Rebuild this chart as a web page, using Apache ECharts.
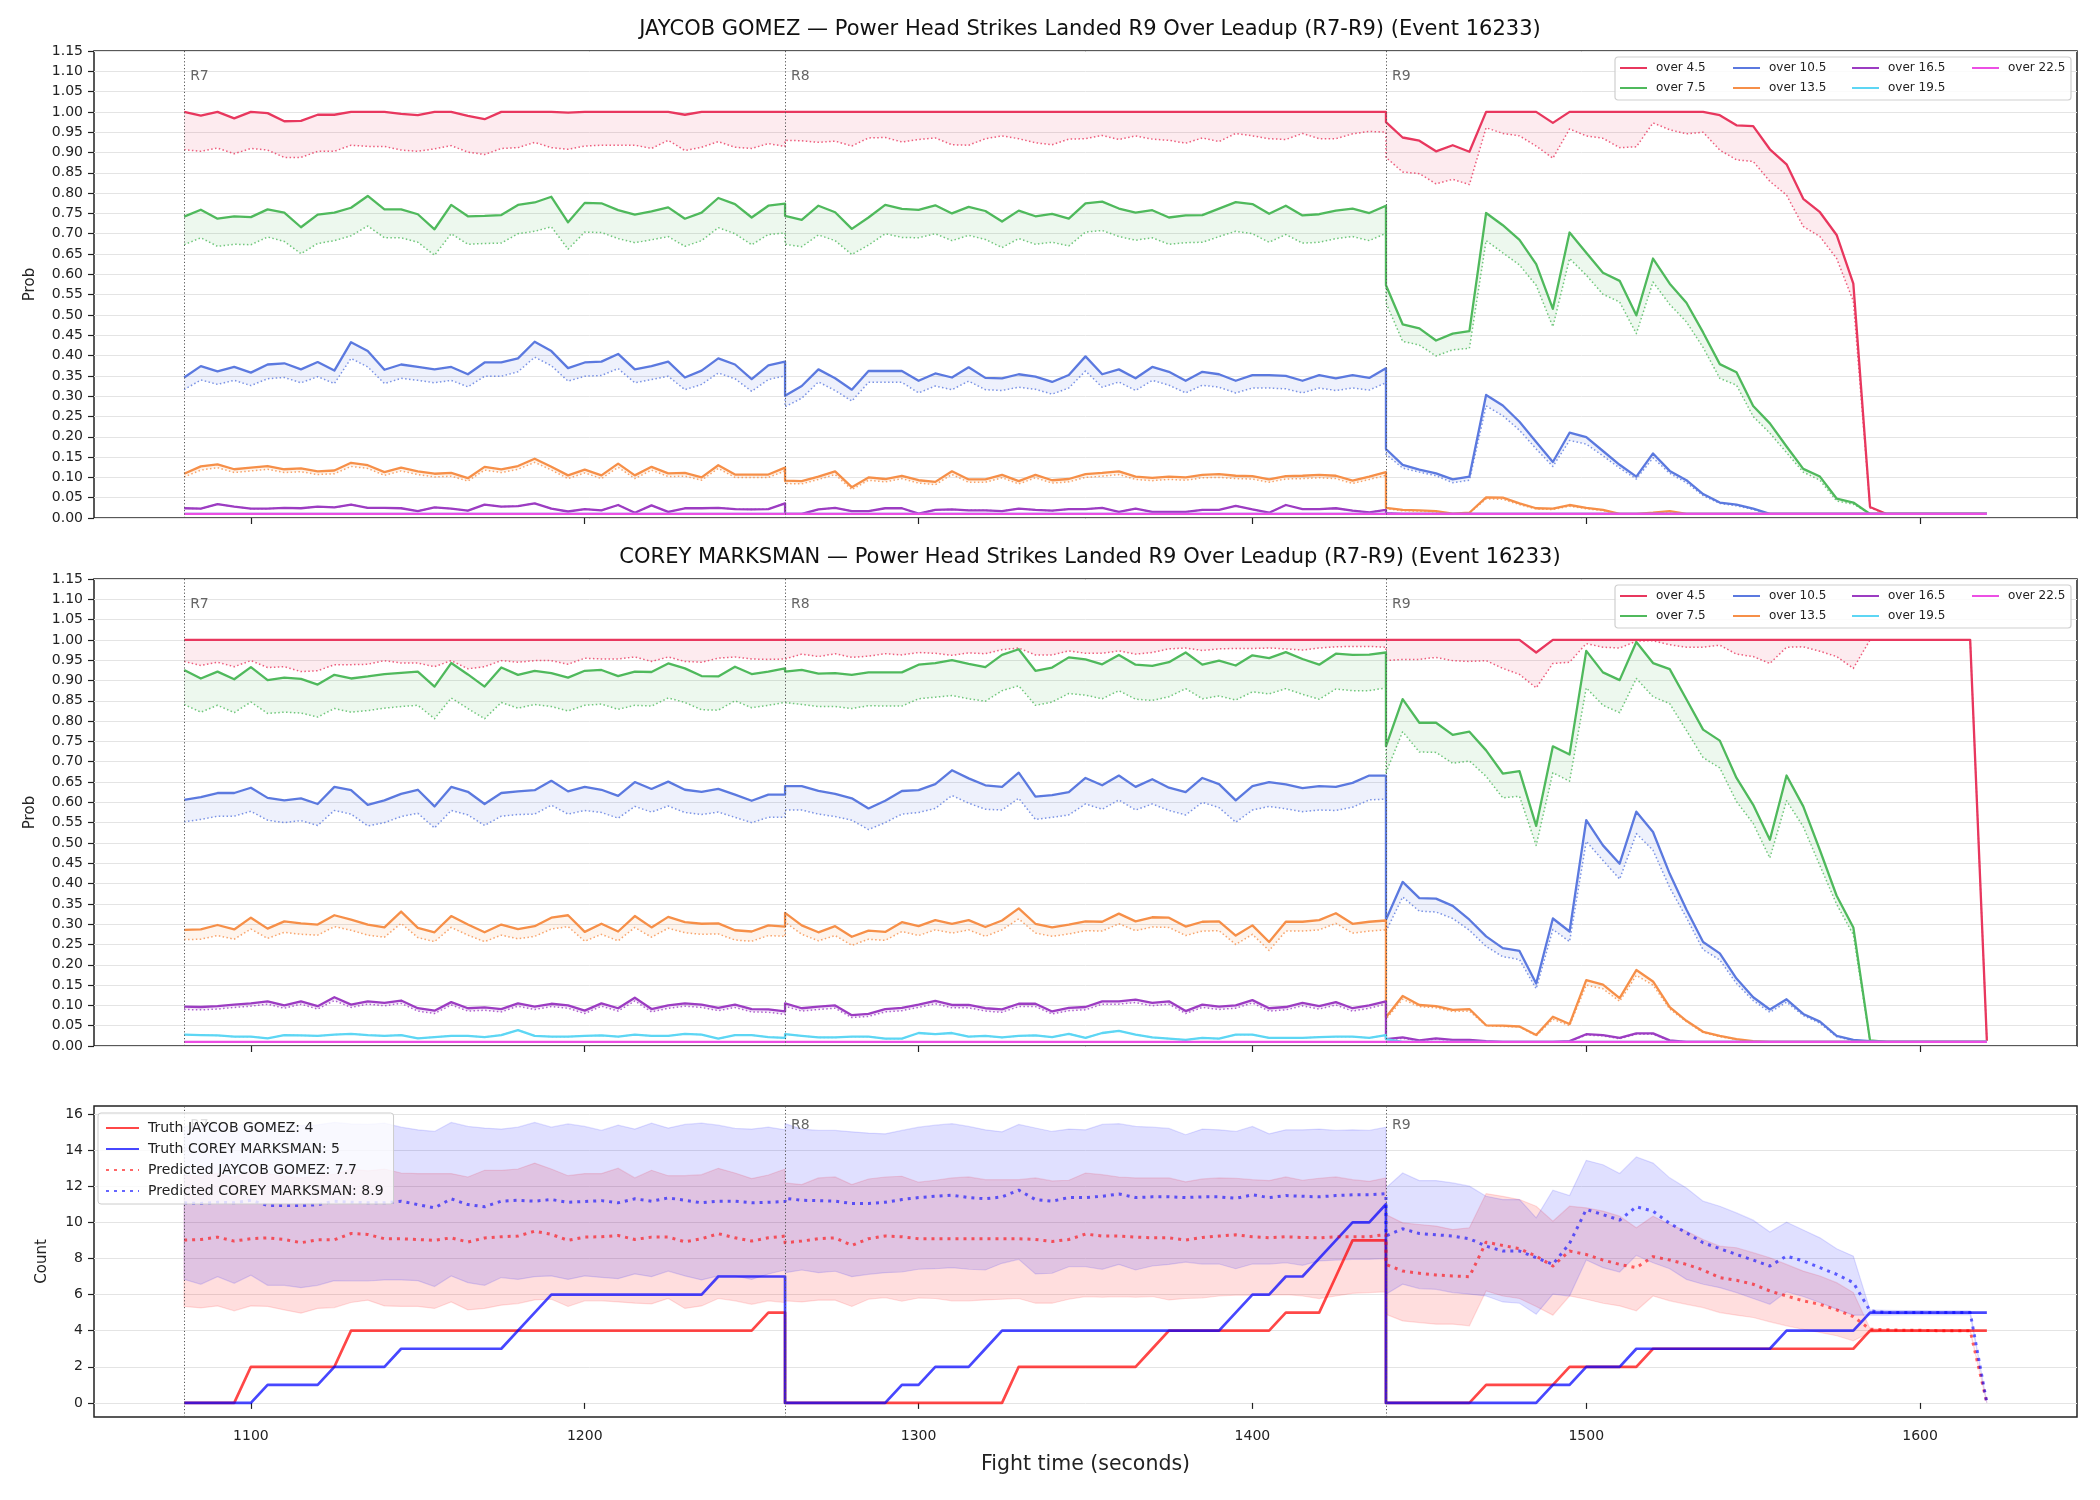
<!DOCTYPE html>
<html>

<head>
    <meta charset="UTF-8">
    <title>Power Head Strikes Landed R9 Over Leadup</title>
    <script src="https://cdn.jsdelivr.net/npm/echarts@6/dist/echarts.min.js"></script>
</head>

<body style="margin:0;background:#fff;">
    <div id="chart" style="width: 2100px;height:1500px;"></div>
    <script type="text/javascript">
        var myChart = echarts.init(document.getElementById('chart'));

        // rounds: sampled every 5 s, each round 0..180 s
        var roundStarts = [1080, 1260, 1440];
        var roundEnds = [1260, 1440, 1620];
        var roundNames = ['R7', 'R8', 'R9'];
        var stepSec = 5;
        var times = [];
        roundStarts.forEach(function (s, r) {
            for (var t = s; t <= roundEnds[r]; t += stepSec) times.push(t);
        });

        var thresholds = ['over 4.5', 'over 7.5', 'over 10.5', 'over 13.5', 'over 16.5', 'over 19.5', 'over 22.5'];
        var xTicks = [1100, 1200, 1300, 1400, 1500, 1600];
        var countTicks = [0, 2, 4, 6, 8, 10, 12, 14, 16];

        // one round of constant values
        var ones = [1, 1, 1, 1, 1, 1, 1, 1, 1, 1, 1, 1, 1, 1, 1, 1, 1, 1, 1, 1, 1, 1, 1, 1, 1, 1, 1, 1, 1, 1, 1, 1, 1, 1, 1, 1, 1];
        var low = [0.01, 0.01, 0.01, 0.01, 0.01, 0.01, 0.01, 0.01, 0.01, 0.01, 0.01, 0.01, 0.01, 0.01, 0.01, 0.01, 0.01, 0.01, 0.01, 0.01,
            0.01, 0.01, 0.01, 0.01, 0.01, 0.01, 0.01, 0.01, 0.01, 0.01, 0.01, 0.01, 0.01, 0.01, 0.01, 0.01, 0.01];

        // ---------- JAYCOB GOMEZ (solid = s, dotted = d) ----------
        var jg45s = [].concat(
            [1.00, 0.991, 1.00, 0.984, 1.00, 0.997, 0.977, 0.978, 0.993, 0.993, 1.00, 1.00, 1.00, 0.995, 0.992, 1.00, 1.00, 0.99, 0.982, 1.00, 1.00, 1.00, 1.00, 0.998, 1.00, 1.00, 1.00, 1.00, 1.00, 1.00, 0.993, 1.00, 1.00, 1.00, 1.00, 1.00, 1.00],
            ones,
            [0.975, 0.937, 0.929, 0.903, 0.918, 0.902, 1, 1, 1, 1, 0.973, 1, 1, 1, 1, 1, 1, 1, 1, 1, 0.992, 0.967, 0.965, 0.908, 0.871, 0.786, 0.753, 0.697, 0.577, 0.027, 0.01, 0.01, 0.01, 0.01, 0.01, 0.01, 0.01]);
        var jg45d = [].concat(
            [0.907, 0.903, 0.911, 0.897, 0.91, 0.906, 0.888, 0.888, 0.903, 0.903, 0.918, 0.915, 0.915, 0.906, 0.903, 0.909, 0.917, 0.901, 0.895, 0.91, 0.912, 0.925, 0.912, 0.908, 0.916, 0.918, 0.918, 0.918, 0.91, 0.93, 0.905, 0.913, 0.927, 0.913, 0.91, 0.922, 0.915],
            [0.93, 0.929, 0.925, 0.928, 0.916, 0.936, 0.937, 0.926, 0.932, 0.936, 0.919, 0.918, 0.934, 0.941, 0.934, 0.924, 0.919, 0.933, 0.934, 0.942, 0.932, 0.941, 0.933, 0.93, 0.923, 0.936, 0.927, 0.947, 0.941, 0.934, 0.932, 0.947, 0.934, 0.934, 0.946, 0.952, 0.95],
            [0.888, 0.852, 0.848, 0.823, 0.834, 0.821, 0.961, 0.947, 0.941, 0.916, 0.886, 0.958, 0.941, 0.935, 0.912, 0.914, 0.973, 0.956, 0.946, 0.95, 0.906, 0.882, 0.878, 0.829, 0.795, 0.718, 0.693, 0.639, 0.534, 0.025, 0.01, 0.01, 0.01, 0.01, 0.01, 0.01, 0.01]);
        var jg75s = [].concat(
            [0.742, 0.759, 0.737, 0.743, 0.741, 0.76, 0.752, 0.716, 0.747, 0.752, 0.764, 0.793, 0.76, 0.76, 0.748, 0.711, 0.771, 0.743, 0.744, 0.746, 0.771, 0.777, 0.791, 0.728, 0.776, 0.775, 0.758, 0.747, 0.755, 0.765, 0.737, 0.752, 0.788, 0.773, 0.74, 0.769, 0.774],
            [0.744, 0.734, 0.769, 0.753, 0.712, 0.74, 0.771, 0.761, 0.759, 0.77, 0.75, 0.766, 0.756, 0.73, 0.757, 0.743, 0.749, 0.737, 0.775, 0.779, 0.762, 0.752, 0.758, 0.74, 0.745, 0.746, 0.762, 0.778, 0.773, 0.749, 0.769, 0.745, 0.748, 0.757, 0.762, 0.751, 0.769],
            [0.573, 0.477, 0.467, 0.437, 0.454, 0.46, 0.751, 0.721, 0.685, 0.625, 0.515, 0.703, 0.653, 0.604, 0.584, 0.499, 0.639, 0.577, 0.53, 0.457, 0.379, 0.359, 0.276, 0.233, 0.176, 0.121, 0.102, 0.048, 0.038, 0.01, 0.01, 0.01, 0.01, 0.01, 0.01, 0.01, 0.01]);
        var jg75d = [].concat(
            [0.673, 0.69, 0.669, 0.674, 0.673, 0.692, 0.681, 0.651, 0.676, 0.683, 0.695, 0.719, 0.69, 0.69, 0.679, 0.647, 0.70, 0.674, 0.676, 0.677, 0.70, 0.706, 0.717, 0.662, 0.704, 0.703, 0.688, 0.678, 0.685, 0.693, 0.669, 0.683, 0.715, 0.70, 0.673, 0.698, 0.702],
            [0.674, 0.668, 0.697, 0.683, 0.649, 0.672, 0.70, 0.691, 0.69, 0.70, 0.683, 0.696, 0.686, 0.666, 0.688, 0.674, 0.679, 0.67, 0.704, 0.708, 0.693, 0.684, 0.69, 0.674, 0.678, 0.679, 0.693, 0.706, 0.70, 0.679, 0.698, 0.677, 0.679, 0.688, 0.693, 0.683, 0.701],
            [0.53, 0.435, 0.426, 0.399, 0.414, 0.418, 0.683, 0.653, 0.623, 0.573, 0.471, 0.639, 0.598, 0.551, 0.532, 0.454, 0.581, 0.526, 0.483, 0.42, 0.344, 0.327, 0.25, 0.209, 0.161, 0.113, 0.093, 0.042, 0.034, 0.01, 0.01, 0.01, 0.01, 0.01, 0.01, 0.01, 0.01]);
        var jg105s = [].concat(
            [0.346, 0.374, 0.361, 0.372, 0.358, 0.378, 0.381, 0.366, 0.384, 0.363, 0.433, 0.411, 0.365, 0.378, 0.372, 0.366, 0.372, 0.354, 0.383, 0.383, 0.393, 0.434, 0.411, 0.369, 0.383, 0.385, 0.404, 0.366, 0.374, 0.385, 0.346, 0.363, 0.393, 0.378, 0.342, 0.376, 0.385],
            [0.301, 0.325, 0.366, 0.344, 0.316, 0.362, 0.362, 0.362, 0.338, 0.356, 0.346, 0.371, 0.345, 0.344, 0.354, 0.348, 0.335, 0.352, 0.398, 0.354, 0.366, 0.344, 0.372, 0.36, 0.338, 0.36, 0.354, 0.338, 0.352, 0.352, 0.35, 0.338, 0.352, 0.344, 0.352, 0.345, 0.369],
            [0.17, 0.131, 0.119, 0.11, 0.095, 0.102, 0.303, 0.277, 0.237, 0.187, 0.138, 0.21, 0.199, 0.165, 0.131, 0.102, 0.159, 0.116, 0.093, 0.059, 0.038, 0.033, 0.023, 0.01, 0.01, 0.01, 0.01, 0.01, 0.01, 0.01, 0.01, 0.01, 0.01, 0.01, 0.01, 0.01, 0.01]);
        var jg105d = [].concat(
            [0.316, 0.34, 0.329, 0.339, 0.326, 0.343, 0.346, 0.333, 0.348, 0.331, 0.393, 0.372, 0.331, 0.344, 0.339, 0.333, 0.339, 0.323, 0.349, 0.349, 0.36, 0.396, 0.375, 0.337, 0.349, 0.351, 0.368, 0.333, 0.341, 0.349, 0.316, 0.329, 0.357, 0.343, 0.312, 0.341, 0.35],
            [0.274, 0.295, 0.335, 0.314, 0.288, 0.334, 0.334, 0.334, 0.308, 0.325, 0.316, 0.337, 0.316, 0.314, 0.322, 0.317, 0.305, 0.32, 0.362, 0.322, 0.335, 0.314, 0.339, 0.327, 0.308, 0.327, 0.322, 0.308, 0.32, 0.32, 0.318, 0.308, 0.32, 0.314, 0.32, 0.315, 0.333],
            [0.157, 0.123, 0.113, 0.104, 0.087, 0.093, 0.276, 0.252, 0.216, 0.17, 0.127, 0.191, 0.182, 0.153, 0.123, 0.096, 0.148, 0.11, 0.087, 0.055, 0.036, 0.03, 0.021, 0.01, 0.01, 0.01, 0.01, 0.01, 0.01, 0.01, 0.01, 0.01, 0.01, 0.01, 0.01, 0.01, 0.01]);
        var jg135s = [].concat(
            [0.109, 0.127, 0.132, 0.12, 0.124, 0.128, 0.12, 0.122, 0.115, 0.117, 0.136, 0.13, 0.113, 0.124, 0.115, 0.109, 0.111, 0.098, 0.126, 0.12, 0.128, 0.146, 0.126, 0.105, 0.119, 0.105, 0.134, 0.105, 0.126, 0.11, 0.111, 0.10, 0.13, 0.107, 0.107, 0.107, 0.124],
            [0.092, 0.091, 0.102, 0.115, 0.076, 0.10, 0.096, 0.104, 0.093, 0.089, 0.115, 0.095, 0.095, 0.106, 0.091, 0.106, 0.093, 0.096, 0.108, 0.111, 0.115, 0.102, 0.099, 0.102, 0.10, 0.106, 0.108, 0.104, 0.103, 0.095, 0.103, 0.104, 0.106, 0.104, 0.092, 0.102, 0.113],
            [0.025, 0.02, 0.019, 0.017, 0.011, 0.013, 0.051, 0.05, 0.036, 0.024, 0.023, 0.032, 0.025, 0.02, 0.01, 0.01, 0.013, 0.017, 0.01, 0.01, 0.01, 0.01, 0.01, 0.01, 0.01, 0.01, 0.01, 0.01, 0.01, 0.01, 0.01, 0.01, 0.01, 0.01, 0.01, 0.01, 0.01]);
        var jg135d = [].concat(
            [0.101, 0.118, 0.124, 0.112, 0.116, 0.12, 0.112, 0.114, 0.107, 0.109, 0.127, 0.122, 0.105, 0.116, 0.107, 0.101, 0.103, 0.091, 0.118, 0.112, 0.12, 0.137, 0.118, 0.097, 0.111, 0.097, 0.125, 0.097, 0.118, 0.102, 0.103, 0.093, 0.122, 0.1, 0.1, 0.1, 0.116],
            [0.085, 0.084, 0.095, 0.107, 0.07, 0.093, 0.089, 0.097, 0.086, 0.082, 0.107, 0.088, 0.088, 0.099, 0.084, 0.099, 0.086, 0.089, 0.10, 0.103, 0.107, 0.095, 0.092, 0.095, 0.093, 0.099, 0.10, 0.097, 0.096, 0.088, 0.096, 0.097, 0.099, 0.097, 0.085, 0.095, 0.105],
            [0.023, 0.018, 0.017, 0.015, 0.01, 0.012, 0.047, 0.046, 0.033, 0.022, 0.021, 0.029, 0.023, 0.018, 0.01, 0.01, 0.012, 0.015, 0.01, 0.01, 0.01, 0.01, 0.01, 0.01, 0.01, 0.01, 0.01, 0.01, 0.01, 0.01, 0.01, 0.01, 0.01, 0.01, 0.01, 0.01, 0.01]);
        var jg165s = [].concat(
            [0.024, 0.023, 0.034, 0.028, 0.023, 0.023, 0.025, 0.024, 0.028, 0.026, 0.033, 0.025, 0.025, 0.024, 0.017, 0.026, 0.023, 0.018, 0.033, 0.028, 0.029, 0.036, 0.023, 0.016, 0.022, 0.019, 0.032, 0.013, 0.031, 0.015, 0.024, 0.024, 0.025, 0.022, 0.021, 0.022, 0.036],
            [0.01, 0.01, 0.021, 0.025, 0.017, 0.017, 0.024, 0.024, 0.011, 0.02, 0.021, 0.019, 0.019, 0.017, 0.023, 0.02, 0.018, 0.022, 0.022, 0.025, 0.015, 0.023, 0.015, 0.015, 0.015, 0.02, 0.02, 0.03, 0.021, 0.013, 0.032, 0.022, 0.022, 0.024, 0.018, 0.014, 0.02],
            [0.012, 0.01, 0.01, 0.01, 0.01, 0.01, 0.01, 0.01, 0.01, 0.01, 0.01, 0.01, 0.01, 0.01, 0.01, 0.01, 0.01, 0.01, 0.01, 0.01, 0.01, 0.01, 0.01, 0.01, 0.01, 0.01, 0.01, 0.01, 0.01, 0.01, 0.01, 0.01, 0.01, 0.01, 0.01, 0.01, 0.01]);
        var jg165d = jg165s;
        var jg195s = [].concat(low, low, low);
        var jg225s = [].concat(low, low, low);

        // ---------- COREY MARKSMAN ----------
        var cm45s = [].concat(ones, ones,
            [1, 1, 1, 1, 1, 1, 1, 1, 1, 0.969, 1, 1, 1, 1, 1, 1, 1, 1, 1, 1, 1, 1, 1, 1, 1, 1, 1, 1, 1, 1, 1, 1, 1, 1, 1, 1, 0.013]);
        var cm45d = [].concat(
            [0.947, 0.937, 0.945, 0.934, 0.949, 0.932, 0.934, 0.922, 0.924, 0.939, 0.939, 0.94, 0.949, 0.943, 0.943, 0.934, 0.949, 0.929, 0.934, 0.949, 0.945, 0.949, 0.949, 0.94, 0.955, 0.953, 0.953, 0.958, 0.947, 0.958, 0.947, 0.945, 0.955, 0.958, 0.953, 0.952, 0.953],
            [0.953, 0.965, 0.959, 0.966, 0.957, 0.96, 0.966, 0.963, 0.969, 0.967, 0.962, 0.968, 0.966, 0.976, 0.98, 0.963, 0.963, 0.973, 0.967, 0.967, 0.973, 0.965, 0.969, 0.978, 0.98, 0.974, 0.978, 0.979, 0.979, 0.98, 0.978, 0.975, 0.98, 0.983, 0.984, 0.984, 0.982],
            [0.949, 0.952, 0.952, 0.957, 0.949, 0.947, 0.949, 0.93, 0.915, 0.882, 0.942, 0.945, 0.991, 0.982, 0.98, 0.997, 0.998, 0.988, 0.982, 0.982, 0.987, 0.965, 0.959, 0.942, 0.982, 0.983, 0.972, 0.959, 0.93, 1.0, 1, 1, 1, 1, 1, 1, 0.013]);
        var cm75s = [].concat(
            [0.926, 0.905, 0.922, 0.903, 0.933, 0.901, 0.907, 0.904, 0.89, 0.914, 0.905, 0.91, 0.916, 0.919, 0.922, 0.885, 0.943, 0.915, 0.885, 0.932, 0.914, 0.924, 0.918, 0.907, 0.924, 0.926, 0.911, 0.922, 0.921, 0.942, 0.93, 0.911, 0.91, 0.934, 0.916, 0.922, 0.93],
            [0.922, 0.926, 0.917, 0.918, 0.914, 0.92, 0.92, 0.92, 0.939, 0.943, 0.95, 0.941, 0.933, 0.963, 0.977, 0.924, 0.932, 0.957, 0.952, 0.94, 0.963, 0.939, 0.936, 0.945, 0.969, 0.939, 0.949, 0.937, 0.962, 0.955, 0.97, 0.953, 0.939, 0.966, 0.963, 0.964, 0.969],
            [0.738, 0.854, 0.796, 0.796, 0.766, 0.774, 0.728, 0.671, 0.677, 0.542, 0.738, 0.718, 0.973, 0.92, 0.901, 0.995, 0.943, 0.928, 0.854, 0.779, 0.752, 0.66, 0.594, 0.508, 0.666, 0.59, 0.482, 0.37, 0.292, 0.014, 0.01, 0.01, 0.01, 0.01, 0.01, 0.01, 0.01]);
        var cm75d = [].concat(
            [0.841, 0.822, 0.839, 0.821, 0.847, 0.819, 0.822, 0.82, 0.81, 0.831, 0.822, 0.826, 0.832, 0.836, 0.839, 0.806, 0.857, 0.831, 0.806, 0.846, 0.832, 0.841, 0.836, 0.825, 0.839, 0.842, 0.829, 0.839, 0.837, 0.857, 0.846, 0.828, 0.827, 0.85, 0.833, 0.839, 0.846],
            [0.843, 0.841, 0.836, 0.836, 0.831, 0.838, 0.837, 0.837, 0.855, 0.859, 0.863, 0.855, 0.849, 0.875, 0.887, 0.839, 0.847, 0.868, 0.864, 0.855, 0.875, 0.854, 0.851, 0.86, 0.88, 0.855, 0.862, 0.852, 0.872, 0.867, 0.88, 0.866, 0.854, 0.879, 0.875, 0.875, 0.882],
            [0.673, 0.774, 0.724, 0.723, 0.696, 0.702, 0.664, 0.611, 0.615, 0.494, 0.673, 0.652, 0.882, 0.839, 0.821, 0.905, 0.86, 0.843, 0.777, 0.71, 0.685, 0.602, 0.548, 0.463, 0.604, 0.54, 0.444, 0.349, 0.274, 0.012, 0.01, 0.01, 0.01, 0.01, 0.01, 0.01, 0.01]);
        var cm105s = [].concat(
            [0.606, 0.613, 0.623, 0.623, 0.636, 0.611, 0.605, 0.61, 0.596, 0.638, 0.63, 0.594, 0.605, 0.621, 0.631, 0.59, 0.638, 0.626, 0.596, 0.623, 0.627, 0.63, 0.653, 0.627, 0.638, 0.631, 0.616, 0.65, 0.633, 0.651, 0.631, 0.626, 0.633, 0.619, 0.604, 0.619, 0.619],
            [0.64, 0.64, 0.628, 0.621, 0.61, 0.585, 0.604, 0.628, 0.63, 0.645, 0.679, 0.659, 0.642, 0.638, 0.673, 0.614, 0.618, 0.625, 0.66, 0.642, 0.666, 0.638, 0.657, 0.636, 0.625, 0.66, 0.645, 0.605, 0.64, 0.65, 0.644, 0.635, 0.64, 0.638, 0.648, 0.666, 0.666],
            [0.311, 0.404, 0.364, 0.363, 0.345, 0.311, 0.27, 0.241, 0.234, 0.154, 0.314, 0.282, 0.556, 0.494, 0.449, 0.577, 0.527, 0.424, 0.336, 0.256, 0.228, 0.166, 0.12, 0.09, 0.115, 0.079, 0.06, 0.025, 0.015, 0.012, 0.01, 0.01, 0.01, 0.01, 0.01, 0.01, 0.01]);
        var cm105d = [].concat(
            [0.552, 0.558, 0.566, 0.566, 0.578, 0.556, 0.55, 0.555, 0.543, 0.58, 0.571, 0.542, 0.55, 0.565, 0.573, 0.537, 0.58, 0.569, 0.543, 0.566, 0.57, 0.571, 0.593, 0.571, 0.58, 0.575, 0.561, 0.59, 0.576, 0.591, 0.575, 0.57, 0.576, 0.563, 0.55, 0.563, 0.563],
            [0.581, 0.581, 0.571, 0.565, 0.556, 0.533, 0.55, 0.571, 0.575, 0.585, 0.617, 0.598, 0.583, 0.581, 0.61, 0.558, 0.563, 0.569, 0.596, 0.583, 0.606, 0.581, 0.596, 0.58, 0.569, 0.6, 0.587, 0.551, 0.581, 0.59, 0.584, 0.577, 0.581, 0.58, 0.588, 0.606, 0.608],
            [0.282, 0.367, 0.332, 0.33, 0.314, 0.285, 0.245, 0.22, 0.213, 0.141, 0.287, 0.257, 0.504, 0.457, 0.411, 0.523, 0.482, 0.39, 0.316, 0.237, 0.212, 0.154, 0.112, 0.083, 0.108, 0.075, 0.056, 0.023, 0.013, 0.01, 0.01, 0.01, 0.01, 0.01, 0.01, 0.01, 0.01]);
        var cm135s = [].concat(
            [0.286, 0.287, 0.298, 0.287, 0.316, 0.289, 0.307, 0.302, 0.299, 0.322, 0.311, 0.299, 0.292, 0.331, 0.291, 0.28, 0.32, 0.299, 0.28, 0.299, 0.288, 0.295, 0.316, 0.322, 0.281, 0.301, 0.282, 0.32, 0.292, 0.318, 0.305, 0.301, 0.302, 0.285, 0.282, 0.297, 0.294],
            [0.328, 0.297, 0.28, 0.295, 0.269, 0.284, 0.281, 0.305, 0.295, 0.31, 0.301, 0.31, 0.293, 0.309, 0.339, 0.301, 0.292, 0.299, 0.307, 0.306, 0.326, 0.307, 0.317, 0.316, 0.294, 0.306, 0.307, 0.272, 0.297, 0.256, 0.306, 0.306, 0.31, 0.327, 0.301, 0.306, 0.309],
            [0.071, 0.123, 0.101, 0.098, 0.089, 0.091, 0.051, 0.05, 0.048, 0.027, 0.072, 0.054, 0.162, 0.151, 0.118, 0.187, 0.159, 0.096, 0.062, 0.035, 0.025, 0.017, 0.012, 0.01, 0.01, 0.01, 0.01, 0.01, 0.01, 0.01, 0.01, 0.01, 0.01, 0.01, 0.01, 0.01, 0.01]);
        var cm135d = [].concat(
            [0.262, 0.263, 0.272, 0.263, 0.288, 0.265, 0.28, 0.275, 0.273, 0.294, 0.285, 0.273, 0.268, 0.302, 0.267, 0.257, 0.292, 0.273, 0.257, 0.273, 0.264, 0.27, 0.288, 0.294, 0.258, 0.275, 0.259, 0.292, 0.268, 0.29, 0.279, 0.275, 0.276, 0.261, 0.258, 0.272, 0.27],
            [0.305, 0.275, 0.259, 0.272, 0.248, 0.263, 0.26, 0.282, 0.272, 0.286, 0.278, 0.286, 0.27, 0.286, 0.313, 0.278, 0.27, 0.276, 0.284, 0.283, 0.301, 0.284, 0.293, 0.292, 0.272, 0.283, 0.284, 0.25, 0.275, 0.235, 0.283, 0.283, 0.286, 0.302, 0.278, 0.283, 0.286],
            [0.066, 0.115, 0.097, 0.094, 0.085, 0.086, 0.05, 0.048, 0.047, 0.025, 0.066, 0.05, 0.15, 0.141, 0.11, 0.174, 0.15, 0.091, 0.06, 0.033, 0.023, 0.016, 0.011, 0.01, 0.01, 0.01, 0.01, 0.01, 0.01, 0.01, 0.01, 0.01, 0.01, 0.01, 0.01, 0.01, 0.01]);
        var cm165s = [].concat(
            [0.097, 0.096, 0.098, 0.102, 0.105, 0.11, 0.10, 0.11, 0.098, 0.12, 0.102, 0.11, 0.106, 0.112, 0.093, 0.087, 0.108, 0.093, 0.095, 0.091, 0.105, 0.097, 0.104, 0.10, 0.087, 0.105, 0.093, 0.119, 0.091, 0.10, 0.105, 0.102, 0.094, 0.102, 0.091, 0.09, 0.085],
            [0.105, 0.093, 0.097, 0.10, 0.076, 0.079, 0.091, 0.094, 0.102, 0.111, 0.101, 0.101, 0.093, 0.09, 0.104, 0.104, 0.085, 0.094, 0.096, 0.11, 0.11, 0.114, 0.106, 0.11, 0.086, 0.102, 0.097, 0.10, 0.113, 0.093, 0.096, 0.106, 0.098, 0.108, 0.093, 0.10, 0.11],
            [0.017, 0.021, 0.014, 0.019, 0.015, 0.015, 0.012, 0.01, 0.01, 0.01, 0.01, 0.012, 0.029, 0.027, 0.02, 0.031, 0.031, 0.014, 0.01, 0.01, 0.01, 0.01, 0.01, 0.01, 0.01, 0.01, 0.01, 0.01, 0.01, 0.01, 0.01, 0.01, 0.01, 0.01, 0.01, 0.01, 0.01]);
        var cm165d = [].concat(
            [0.09, 0.089, 0.091, 0.095, 0.098, 0.103, 0.093, 0.103, 0.091, 0.112, 0.095, 0.103, 0.099, 0.105, 0.086, 0.08, 0.101, 0.086, 0.088, 0.084, 0.098, 0.09, 0.097, 0.093, 0.08, 0.098, 0.086, 0.111, 0.084, 0.093, 0.098, 0.095, 0.087, 0.095, 0.084, 0.083, 0.078],
            [0.098, 0.086, 0.09, 0.093, 0.07, 0.073, 0.084, 0.087, 0.095, 0.104, 0.094, 0.094, 0.086, 0.083, 0.097, 0.097, 0.079, 0.087, 0.089, 0.103, 0.103, 0.107, 0.099, 0.103, 0.08, 0.095, 0.09, 0.093, 0.106, 0.086, 0.089, 0.099, 0.091, 0.101, 0.086, 0.093, 0.103],
            [0.015, 0.019, 0.013, 0.017, 0.014, 0.014, 0.011, 0.01, 0.01, 0.01, 0.01, 0.011, 0.027, 0.025, 0.018, 0.029, 0.029, 0.013, 0.01, 0.01, 0.01, 0.01, 0.01, 0.01, 0.01, 0.01, 0.01, 0.01, 0.01, 0.01, 0.01, 0.01, 0.01, 0.01, 0.01, 0.01, 0.01]);
        var cm195s = [].concat(
            [0.028, 0.027, 0.026, 0.023, 0.023, 0.019, 0.027, 0.026, 0.025, 0.028, 0.03, 0.027, 0.025, 0.027, 0.019, 0.022, 0.025, 0.025, 0.022, 0.027, 0.039, 0.025, 0.023, 0.023, 0.025, 0.026, 0.023, 0.028, 0.025, 0.025, 0.03, 0.028, 0.018, 0.027, 0.027, 0.022, 0.02],
            [0.029, 0.025, 0.021, 0.021, 0.023, 0.023, 0.018, 0.018, 0.032, 0.029, 0.032, 0.023, 0.025, 0.021, 0.025, 0.026, 0.022, 0.03, 0.02, 0.032, 0.037, 0.028, 0.021, 0.018, 0.015, 0.02, 0.018, 0.028, 0.028, 0.02, 0.02, 0.02, 0.022, 0.023, 0.023, 0.02, 0.027],
            [0.017, 0.01, 0.01, 0.01, 0.01, 0.01, 0.01, 0.01, 0.01, 0.01, 0.01, 0.01, 0.01, 0.01, 0.01, 0.01, 0.01, 0.01, 0.01, 0.01, 0.01, 0.01, 0.01, 0.01, 0.01, 0.01, 0.01, 0.01, 0.01, 0.01, 0.01, 0.01, 0.01, 0.01, 0.01, 0.01, 0.01]);
        var cm195d = cm195s;
        var cm225s = [].concat(low, low, low);

        // ---------- counts ----------
        var truthJG = [].concat(
            [0, 0, 0, 0, 2, 2, 2, 2, 2, 2, 4, 4, 4, 4, 4, 4, 4, 4, 4, 4, 4, 4, 4, 4, 4, 4, 4, 4, 4, 4, 4, 4, 4, 4, 4, 5, 5],
            [0, 0, 0, 0, 0, 0, 0, 0, 0, 0, 0, 0, 0, 0, 2, 2, 2, 2, 2, 2, 2, 2, 3, 4, 4, 4, 4, 4, 4, 4, 5, 5, 5, 7, 9, 9, 9],
            [0, 0, 0, 0, 0, 0, 1, 1, 1, 1, 1, 2, 2, 2, 2, 2, 3, 3, 3, 3, 3, 3, 3, 3, 3, 3, 3, 3, 3, 4, 4, 4, 4, 4, 4, 4, 4]);
        var truthCM = [].concat(
            [0, 0, 0, 0, 0, 1, 1, 1, 1, 2, 2, 2, 2, 3, 3, 3, 3, 3, 3, 3, 4, 5, 6, 6, 6, 6, 6, 6, 6, 6, 6, 6, 7, 7, 7, 7, 7],
            [0, 0, 0, 0, 0, 0, 0, 1, 1, 2, 2, 2, 3, 4, 4, 4, 4, 4, 4, 4, 4, 4, 4, 4, 4, 4, 4, 5, 6, 6, 7, 7, 8, 9, 10, 10, 11],
            [0, 0, 0, 0, 0, 0, 0, 0, 0, 0, 1, 1, 2, 2, 2, 3, 3, 3, 3, 3, 3, 3, 3, 3, 4, 4, 4, 4, 4, 5, 5, 5, 5, 5, 5, 5, 5]);
        var predJG = [].concat(
            [9.02, 9.05, 9.18, 8.96, 9.09, 9.14, 9.05, 8.87, 9.03, 9.03, 9.38, 9.33, 9.09, 9.09, 9.05, 9.0, 9.14, 8.91, 9.13, 9.2, 9.24, 9.51, 9.33, 9.0, 9.18, 9.2, 9.27, 9.05, 9.18, 9.18, 8.92, 9.09, 9.37, 9.14, 8.96, 9.14, 9.24],
            [8.87, 8.96, 9.09, 9.14, 8.72, 9.09, 9.24, 9.2, 9.09, 9.09, 9.09, 9.09, 9.09, 9.09, 9.09, 9.05, 8.94, 9.05, 9.35, 9.24, 9.24, 9.18, 9.14, 9.14, 9.02, 9.16, 9.24, 9.31, 9.2, 9.14, 9.2, 9.16, 9.14, 9.2, 9.2, 9.2, 9.33],
            [7.67, 7.3, 7.18, 7.08, 7.03, 6.99, 8.9, 8.72, 8.54, 8.13, 7.58, 8.41, 8.22, 7.91, 7.67, 7.49, 8.1, 7.91, 7.67, 7.36, 6.94, 6.79, 6.57, 6.2, 5.92, 5.65, 5.46, 5.15, 4.78, 4.08, 4.05, 4.02, 4.02, 4.0, 4.0, 4.0, 0]);
        var predCM = [].concat(
            [11.08, 11.04, 11.11, 11.08, 11.22, 10.93, 10.93, 10.93, 10.97, 11.17, 11.11, 11.08, 11.08, 11.17, 10.98, 10.8, 11.3, 10.98, 10.86, 11.17, 11.22, 11.17, 11.26, 11.11, 11.15, 11.2, 11.08, 11.3, 11.17, 11.35, 11.22, 11.08, 11.17, 11.17, 11.08, 11.11, 11.15],
            [11.33, 11.22, 11.2, 11.17, 11.04, 11.04, 11.11, 11.26, 11.37, 11.44, 11.5, 11.37, 11.3, 11.41, 11.78, 11.26, 11.17, 11.37, 11.37, 11.44, 11.57, 11.37, 11.41, 11.41, 11.37, 11.41, 11.41, 11.33, 11.52, 11.37, 11.48, 11.44, 11.41, 11.48, 11.52, 11.52, 11.59],
            [9.24, 9.64, 9.38, 9.31, 9.24, 9.09, 8.68, 8.41, 8.41, 8.04, 7.67, 8.83, 10.71, 10.43, 10.12, 10.86, 10.62, 9.94, 9.42, 8.87, 8.54, 8.22, 7.91, 7.58, 8.13, 7.86, 7.49, 7.12, 6.66, 5.1, 5.0, 5.0, 5.0, 5.0, 5.0, 5.0, 0]);
        var jgBandHi = [].concat(
            [12.6, 12.55, 12.7, 12.5, 12.8, 12.7, 12.55, 12.45, 12.6, 12.65, 12.95, 12.85, 12.95, 12.73, 12.7, 12.7, 12.7, 12.51, 12.88, 12.88, 12.95, 13.28, 12.95, 12.58, 12.7, 12.7, 13.0, 12.46, 12.88, 12.58, 12.58, 12.64, 12.99, 12.73, 12.42, 12.62, 12.95],
            [12.18, 12.09, 12.46, 12.51, 12.09, 12.4, 12.51, 12.55, 12.22, 12.33, 12.46, 12.51, 12.36, 12.36, 12.36, 12.46, 12.29, 12.33, 12.73, 12.64, 12.51, 12.46, 12.46, 12.46, 12.24, 12.4, 12.46, 12.44, 12.36, 12.31, 12.51, 12.33, 12.44, 12.51, 12.36, 12.27, 12.46],
            [10.43, 9.97, 9.88, 9.79, 9.6, 9.7, 11.59, 11.44, 11.26, 10.89, 10.06, 10.89, 10.8, 10.62, 10.34, 9.7, 10.34, 9.88, 9.51, 9.05, 8.68, 8.59, 8.32, 8.04, 7.67, 7.3, 7.03, 6.66, 6.11, 4.12, 4.08, 4.06, 4.06, 4.05, 4.05, 4.05, 0]);
        var jgBandLo = [].concat(
            [5.34, 5.26, 5.37, 5.1, 5.37, 5.34, 5.15, 4.97, 5.23, 5.28, 5.56, 5.69, 5.37, 5.34, 5.34, 5.23, 5.59, 5.15, 5.23, 5.41, 5.5, 5.7, 5.74, 5.34, 5.65, 5.65, 5.59, 5.52, 5.48, 5.78, 5.23, 5.37, 5.78, 5.65, 5.46, 5.65, 5.56],
            [5.65, 5.59, 5.69, 5.69, 5.34, 5.74, 5.83, 5.63, 5.81, 5.78, 5.65, 5.65, 5.7, 5.74, 5.78, 5.52, 5.52, 5.74, 5.89, 5.85, 5.89, 5.85, 5.89, 5.7, 5.78, 5.81, 5.92, 5.96, 5.96, 5.96, 6.0, 5.92, 5.78, 5.92, 6.07, 6.11, 6.15],
            [4.91, 4.54, 4.45, 4.36, 4.36, 4.27, 6.2, 5.92, 5.78, 5.34, 4.86, 5.92, 5.74, 5.52, 5.37, 5.1, 5.92, 5.65, 5.46, 5.28, 5.0, 4.86, 4.73, 4.49, 4.27, 4.08, 3.9, 3.72, 3.44, 3.9, 3.94, 3.95, 3.95, 3.95, 3.95, 3.95, 0]);
        var cmBandHi = [].concat(
            [15.31, 15.35, 15.4, 15.3, 15.5, 15.45, 15.4, 15.35, 15.4, 15.53, 15.45, 15.42, 15.49, 15.27, 15.12, 15.03, 15.53, 15.31, 15.22, 15.16, 15.27, 15.53, 15.27, 15.45, 15.31, 15.09, 15.38, 15.16, 15.49, 15.22, 15.42, 15.49, 15.38, 15.2, 15.16, 15.27, 15.12],
            [15.46, 15.16, 15.09, 15.09, 15.01, 14.94, 14.9, 15.09, 15.27, 15.38, 15.46, 15.31, 15.12, 15.01, 15.42, 15.22, 15.03, 15.16, 15.12, 15.42, 15.46, 15.31, 15.27, 15.2, 14.85, 15.16, 15.12, 15.03, 15.31, 14.9, 15.12, 15.12, 15.16, 15.09, 15.12, 15.09, 15.27],
            [11.9, 12.73, 12.31, 12.31, 12.18, 12.0, 11.44, 11.26, 11.26, 10.25, 11.78, 11.48, 13.43, 13.19, 12.7, 13.62, 13.28, 12.46, 11.9, 11.17, 10.89, 10.52, 10.12, 9.46, 10.01, 9.57, 9.14, 8.54, 8.13, 5.15, 5.12, 5.11, 5.11, 5.1, 5.1, 5.1, 0]);
        var cmBandLo = [].concat(
            [6.84, 6.57, 6.99, 6.62, 7.07, 6.51, 6.51, 6.38, 6.51, 6.77, 6.75, 6.75, 6.81, 6.81, 6.77, 6.44, 7.03, 6.66, 6.51, 6.94, 6.84, 6.99, 7.03, 6.84, 7.03, 6.95, 6.88, 7.14, 6.99, 7.3, 7.03, 6.81, 7.03, 7.03, 6.84, 7.14, 7.36],
            [7.21, 7.36, 7.21, 7.29, 6.99, 7.12, 7.21, 7.25, 7.4, 7.43, 7.49, 7.4, 7.36, 7.73, 7.95, 7.14, 7.18, 7.54, 7.54, 7.4, 7.67, 7.36, 7.58, 7.67, 7.8, 7.69, 7.69, 7.43, 7.69, 7.69, 7.76, 7.62, 7.86, 7.91, 7.95, 7.95, 7.99],
            [6.02, 6.57, 6.33, 6.29, 6.11, 6.02, 5.92, 5.59, 5.52, 4.91, 6.02, 5.92, 7.91, 7.49, 7.25, 8.17, 7.76, 7.43, 6.84, 6.57, 6.38, 6.11, 5.78, 5.46, 6.15, 5.89, 5.56, 5.19, 4.86, 4.86, 4.86, 4.88, 4.88, 4.88, 4.88, 4.88, 0]);

        var jgSolid = [jg45s, jg75s, jg105s, jg135s, jg165s, jg195s, jg225s];
        var jgDotted = [jg45d, jg75d, jg105d, jg135d, jg165d, jg195s, jg225s];
        var cmSolid = [cm45s, cm75s, cm105s, cm135s, cm165s, cm195s, cm225s];
        var cmDotted = [cm45d, cm75d, cm105d, cm135d, cm165d, cm195d, cm225s];

        var colors = ['#e8375e', '#4fb95c', '#5b79df', '#f68f48', '#9c3cc2', '#5dd6f4', '#ec4fe4'];

        function rgba(hex, a) {
            var n = parseInt(hex.slice(1), 16);
            return 'rgba(' + (n >> 16) + ',' + ((n >> 8) & 255) + ',' + (n & 255) + ',' + a + ')';
        }
        function pts(vals) {
            if (vals.length !== times.length) throw new Error('bad length ' + vals.length);
            return vals.map(function (v, i) { return [times[i], v]; });
        }

        // filled band between two value arrays, drawn through the axis scales
        function bandSeries(ax, hi, lo, fill, stroke) {
            pts(hi); pts(lo);
            return {
                type: 'custom', xAxisIndex: ax, yAxisIndex: ax, z: 1, silent: true,
                data: [[times[0], lo[0]]],
                renderItem: function (params, api) {
                    var p = [];
                    for (var i = 0; i < times.length; i++) p.push(api.coord([times[i], hi[i]]));
                    for (var j = times.length - 1; j >= 0; j--) p.push(api.coord([times[j], lo[j]]));
                    return {
                        type: 'polygon', shape: { points: p },
                        style: { fill: fill, stroke: stroke || null, lineWidth: 1.2 }
                    };
                }
            };
        }
        function lineSeries(ax, name, vals, color, width, dash, z) {
            return {
                name: name, type: 'line', xAxisIndex: ax, yAxisIndex: ax, z: z || 2,
                symbol: 'none', silent: true, data: pts(vals),
                lineStyle: { color: color, width: width, type: dash || 'solid', cap: 'butt', join: 'round' },
                itemStyle: { color: color }
            };
        }
        function roundSeries(ax, labelOffset) {
            return {
                name: 'rounds' + ax, type: 'line', xAxisIndex: ax, yAxisIndex: ax, data: [], silent: true, z: 4,
                markLine: {
                    symbol: ['none', 'none'], silent: true, animation: false, label: { show: false },
                    lineStyle: { color: '#555', type: [1.2, 2.2], width: 1 },
                    data: roundStarts.map(function (s) { return { xAxis: s }; })
                },
                markArea: {
                    silent: true, animation: false, itemStyle: { color: 'rgba(0,0,0,0)' },
                    label: { show: true, position: 'insideTopLeft', color: '#666', fontSize: 14, distance: 0, offset: labelOffset },
                    data: roundStarts.map(function (s, i) { return [{ xAxis: s, name: roundNames[i] }, { xAxis: roundEnds[i] }]; })
                }
            };
        }

        var series = [];
        [[jgSolid, jgDotted], [cmSolid, cmDotted]].forEach(function (pair, ax) {
            thresholds.forEach(function (th, i) {
                series.push(bandSeries(ax, pair[0][i], pair[1][i], rgba(colors[i], 0.1)));
            });
            thresholds.forEach(function (th, i) {
                series.push(lineSeries(ax, th, pair[0][i], colors[i], 2.3, 'solid', 3));
                series.push(lineSeries(ax, th + ' (dotted)', pair[1][i], rgba(colors[i], 0.8), 1.5, [1.5, 2.4], 2));
            });
            series.push(roundSeries(ax, [6, 18]));
        });

        var redC = 'rgba(255,0,0,0.72)', blueC = 'rgba(0,0,255,0.72)';
        series.push(bandSeries(2, jgBandHi, jgBandLo, 'rgba(255,0,0,0.13)', 'rgba(255,0,0,0.12)'));
        series.push(bandSeries(2, cmBandHi, cmBandLo, 'rgba(0,0,255,0.12)', 'rgba(0,0,255,0.12)'));
        series.push(lineSeries(2, 'Truth JAYCOB GOMEZ: 4', truthJG, redC, 2.7, 'solid', 3));
        series.push(lineSeries(2, 'Truth COREY MARKSMAN: 5', truthCM, blueC, 2.7, 'solid', 3));
        series.push(lineSeries(2, 'Predicted JAYCOB GOMEZ: 7.7', predJG, 'rgba(255,0,0,0.6)', 3, [3, 5], 3));
        series.push(lineSeries(2, 'Predicted COREY MARKSMAN: 8.9', predCM, 'rgba(0,0,255,0.6)', 3, [3, 5], 3));
        series.push(roundSeries(2, [6, 12]));

        var ink = '#222';
        var gridTops = [51, 579, 1106];
        var gridHeights = [467, 467, 311];

        function xAxisFor(g) {
            return {
                gridIndex: g, type: 'value', min: 1053, max: 1647,
                axisLine: { show: false },
                axisTick: { show: true, customValues: xTicks, length: 6, lineStyle: { color: ink, width: 1.2 } },
                axisLabel: {
                    show: g === 2, customValues: xTicks, fontSize: 14, color: ink, margin: 12,
                    formatter: function (v) { return String(v); }
                },
                splitLine: { show: false },
                name: g === 2 ? 'Fight time (seconds)' : '', nameLocation: 'middle', nameGap: 37,
                nameTextStyle: { fontSize: 20.5, color: ink }
            };
        }
        function probAxis(g) {
            return {
                gridIndex: g, type: 'value', min: 0, max: 1.15, interval: 0.05,
                axisLine: { show: false },
                axisTick: { show: true, length: 6, lineStyle: { color: ink, width: 1.2 } },
                axisLabel: { fontSize: 14, color: ink, margin: 11, formatter: function (v) { return v.toFixed(2); } },
                splitLine: { show: true, lineStyle: { color: '#e4e4e4', width: 1 } },
                name: 'Prob', nameLocation: 'middle', nameGap: 56, nameTextStyle: { fontSize: 15, color: ink }
            };
        }

        var titleStyle = { fontSize: 21, fontFamily: 'DejaVu Sans', fill: '#111', align: 'center', verticalAlign: 'middle' };
        var option = {
            animation: false,
            backgroundColor: '#fff',
            textStyle: { fontFamily: 'DejaVu Sans' },
            grid: gridTops.map(function (t, i) {
                return { left: 94, right: 23, top: t, height: gridHeights[i], show: true, borderColor: ink, borderWidth: 1.5, backgroundColor: 'transparent' };
            }),
            xAxis: [xAxisFor(0), xAxisFor(1), xAxisFor(2)],
            yAxis: [probAxis(0), probAxis(1), {
                gridIndex: 2, type: 'value', min: -0.78, max: 16.44,
                axisLine: { show: false },
                axisTick: { show: true, customValues: countTicks, length: 6, lineStyle: { color: ink, width: 1.2 } },
                axisLabel: { customValues: countTicks, fontSize: 14, color: ink, margin: 11 },
                splitLine: { show: true, lineStyle: { color: '#e4e4e4', width: 1 } },
                name: 'Count', nameLocation: 'middle', nameGap: 44, nameTextStyle: { fontSize: 15, color: ink }
            }],
            graphic: [
                { type: 'text', x: 1090, y: 30, z: 10, style: Object.assign({ text: 'JAYCOB GOMEZ — Power Head Strikes Landed R9 Over Leadup (R7-R9) (Event 16233)' }, titleStyle) },
                { type: 'text', x: 1090, y: 558, z: 10, style: Object.assign({ text: 'COREY MARKSMAN — Power Head Strikes Landed R9 Over Leadup (R7-R9) (Event 16233)' }, titleStyle) },
                { type: 'rect', x: 1615, y: 57, z: 10, shape: { width: 456, height: 43, r: 3 }, style: { fill: 'rgba(255,255,255,0.85)', stroke: '#cfcfcf', lineWidth: 1.2 } },
                { type: 'rect', x: 1615, y: 585, z: 10, shape: { width: 456, height: 43, r: 3 }, style: { fill: 'rgba(255,255,255,0.85)', stroke: '#cfcfcf', lineWidth: 1.2 } }
            ],
            legend: [],
            series: series
        };

        // 4-column legends for the two probability panels (line handles only)
        var legendCols = [[0, 1], [2, 3], [4, 5], [6]];
        var legendLefts = [1619, 1732, 1851, 1971];
        [62, 590].forEach(function (top) {
            legendCols.forEach(function (col, j) {
                option.legend.push({
                    orient: 'vertical', left: legendLefts[j], top: top, padding: 0, z: 12,
                    itemWidth: 27, itemHeight: 12, itemGap: 8, selectedMode: false,
                    itemStyle: { opacity: 0 },
                    data: col.map(function (i) { return thresholds[i]; }),
                    textStyle: { fontSize: 12, color: ink, padding: [0, 0, 0, 4] }
                });
            });
        });
        option.legend.push({
            orient: 'vertical', left: 98, top: 1113, z: 12, selectedMode: false,
            padding: [8, 10, 6, 7], itemWidth: 33, itemHeight: 12, itemGap: 7,
            itemStyle: { opacity: 0 },
            backgroundColor: 'rgba(255,255,255,0.8)', borderColor: '#cccccc', borderWidth: 1, borderRadius: 3,
            data: ['Truth JAYCOB GOMEZ: 4', 'Truth COREY MARKSMAN: 5', 'Predicted JAYCOB GOMEZ: 7.7', 'Predicted COREY MARKSMAN: 8.9'],
            textStyle: { fontSize: 14, color: ink, padding: [0, 0, 0, 4] }
        });

        myChart.setOption(option);
    </script>
</body>

</html>
